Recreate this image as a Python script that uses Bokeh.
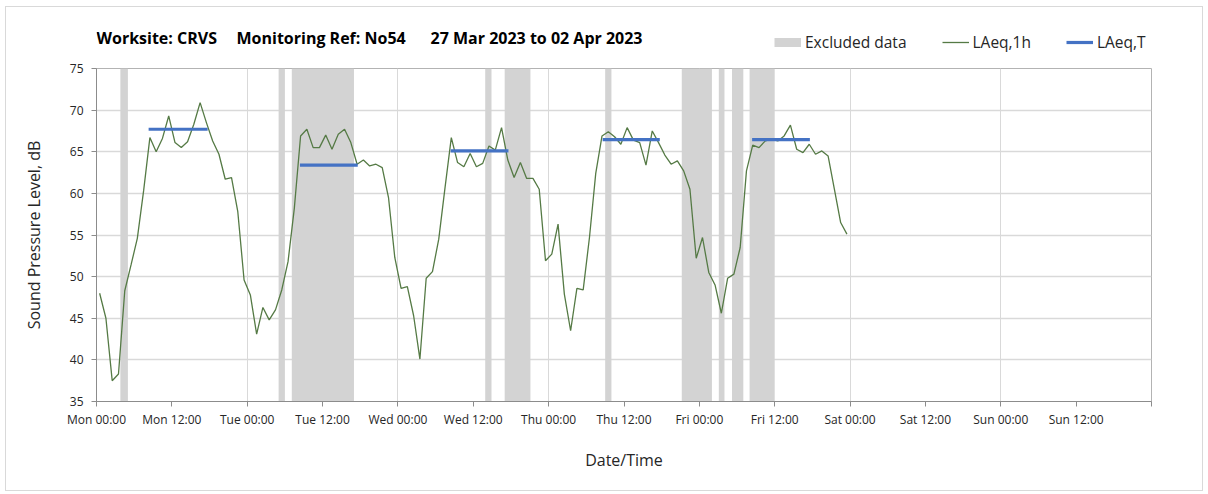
import numpy as np
from bokeh.plotting import figure
from bokeh.layouts import column
from bokeh.models import Range1d, FixedTicker, Legend, LegendItem, Label
from bokeh.embed import file_html
from bokeh.resources import INLINE

# ---- data ----
hour_mid = np.arange(120) + 0.5  # hourly periods, Mon 00:00 .. Fri 23:00
laeq_1h = [
    48.0, 45.0, 37.5, 38.3, 48.3, 51.4, 54.6, 60.3, 66.7, 65.0, 66.6, 69.3,
    66.1, 65.5, 66.2, 68.3, 70.9, 68.5, 66.3, 64.7, 61.7, 61.9, 57.8, 49.6,
    47.8, 43.1, 46.3, 44.8, 46.0, 48.4, 51.8, 58.2, 66.9, 67.7, 65.5, 65.5,
    67.0, 65.3, 67.1, 67.7, 66.1, 63.5, 64.0, 63.3, 63.5, 63.1, 59.5, 52.3,
    48.6, 48.8, 45.3, 40.1, 49.8, 50.6, 54.5, 60.7, 66.7, 63.7, 63.2, 64.8,
    63.2, 63.6, 65.7, 65.2, 67.9, 64.0, 61.9, 63.7, 61.8, 61.8, 60.5, 51.9,
    52.7, 56.3, 47.9, 43.5, 48.6, 48.4, 54.7, 62.4, 66.9, 67.4, 66.8, 65.9,
    67.9, 66.4, 66.1, 63.4, 67.5, 66.1, 64.6, 63.5, 63.9, 62.7, 60.5, 52.2,
    54.7, 50.5, 49.0, 45.6, 49.8, 50.3, 53.5, 62.7, 65.8, 65.5, 66.3, 66.5,
    66.3, 66.9, 68.2, 65.3, 64.9, 65.9, 64.7, 65.1, 64.5, 60.5, 56.5, 55.1,
]
excl_start = [3.8, 29.0, 31.1, 61.9, 65.0, 81.0, 93.2, 99.1, 101.2, 104.0]
excl_end = [5.0, 30.0, 41.0, 62.9, 69.1, 82.0, 98.0, 100.0, 103.0, 108.0]
laeqT_start = [8.3, 32.4, 56.4, 80.6, 104.4]
laeqT_end = [17.7, 41.6, 65.6, 89.7, 113.6]
laeqT_level = [67.7, 63.4, 65.1, 66.45, 66.45]

day_names = ["Mon", "Tue", "Wed", "Thu", "Fri", "Sat", "Sun"]
tick_hours = list(range(0, 169, 12))
tick_labels = [f"{d} {t}" for d in day_names for t in ("00:00", "12:00")] + [""]
y_ticks = [35, 40, 45, 50, 55, 60, 65, 70, 75]
title_parts = ["Worksite: CRVS", "Monitoring Ref: No54", "27 Mar 2023 to 02 Apr 2023"]
legend_labels = ["Excluded data", "LAeq,1h", "LAeq,T"]

FONT = "Open Sans"
TXT = "#262626"
C_EXCL = "#d3d3d3"
C_1H = "#557a45"
C_T = "#4472c4"

W = 1196

# ---------------- header (title + legend) ----------------
HH = 49
header = figure(width=W, height=HH, min_border=0,
                x_range=Range1d(0, 1), y_range=Range1d(0, 1),
                x_axis_location=None, y_axis_location=None,
                output_backend="svg", toolbar_location=None)
header.outline_line_color = None
header.grid.visible = False
header.background_fill_color = "white"
header.border_fill_color = "white"

for x, t in zip([0, 140, 334], title_parts):
    header.add_layout(Label(x=x, y=18.5, x_units="screen", y_units="screen", text=t,
                            text_font=FONT, text_font_style="bold", text_font_size="16px",
                            text_color="#000000", text_baseline="middle",
                            text_align="left"))

lg_excl = header.line(x=[np.nan], y=[np.nan], line_color=C_EXCL, line_width=9)
lg_1h = header.line(x=[np.nan], y=[np.nan], line_color=C_1H, line_width=1.3)
lg_t = header.line(x=[np.nan], y=[np.nan], line_color=C_T, line_width=3.2)
legend = Legend(
    items=[LegendItem(label=l, renderers=[r])
           for l, r in zip(legend_labels, [lg_excl, lg_1h, lg_t])],
    orientation="horizontal", location=(678, 3.5),
    glyph_width=27, glyph_height=20, label_height=20, label_standoff=4,
    spacing=35, padding=0, margin=0,
    border_line_alpha=0, background_fill_alpha=0,
    label_text_font=FONT, label_text_font_size="15.5px", label_text_color=TXT,
)
header.add_layout(legend, "center")

# ---------------- main chart ----------------
p = figure(
    frame_width=1055, frame_height=333,
    min_border_left=90, min_border_top=12, min_border_right=51, min_border_bottom=89,
    x_range=Range1d(0, 168), y_range=Range1d(35, 75),
    output_backend="svg", toolbar_location=None,
)
p.background_fill_color = "white"
p.border_fill_color = "white"
p.outline_line_color = "#b3b3b3"
p.outline_line_width = 1

p.xgrid.ticker = FixedTicker(ticks=[24, 48, 72, 96, 120, 144])
p.xgrid.grid_line_color = "#d9d9d9"
p.xgrid.grid_line_width = 1
p.ygrid.ticker = FixedTicker(ticks=[40, 45, 50, 55, 60, 65, 70])
p.ygrid.grid_line_color = "#d9d9d9"
p.ygrid.grid_line_width = 1.5

p.xaxis.ticker = FixedTicker(ticks=tick_hours)
p.xaxis.major_label_overrides = {h: lab for h, lab in zip(tick_hours, tick_labels)}
p.yaxis.ticker = FixedTicker(ticks=y_ticks)
for ax in (p.xaxis[0], p.yaxis[0]):
    ax.axis_line_color = "#8c8c8c"
    ax.major_tick_line_color = "#8c8c8c"
    ax.major_tick_out = 5
    ax.major_tick_in = 0
    ax.minor_tick_line_color = None
    ax.major_label_text_font = FONT
    ax.major_label_text_font_size = "12px"
    ax.major_label_text_color = TXT
    ax.axis_label_text_font = FONT
    ax.axis_label_text_font_size = "16px"
    ax.axis_label_text_font_style = "normal"
    ax.axis_label_text_color = TXT
p.xaxis.major_label_standoff = 4
p.yaxis.major_label_standoff = 8
p.xaxis.axis_label = "Date/Time"
p.xaxis.axis_label_standoff = 18
p.yaxis.axis_label = "Sound Pressure Level, dB"
p.yaxis.axis_label_standoff = 22

p.quad(left=excl_start, right=excl_end, bottom=35, top=75,
       fill_color=C_EXCL, line_color=None)
p.line(hour_mid, laeq_1h, line_color=C_1H, line_width=1.3)
p.segment(x0=laeqT_start, y0=laeqT_level, x1=laeqT_end, y1=laeqT_level,
          line_color=C_T, line_width=3.2)

layout = column(header, p, spacing=0,
                styles={"border": "1px solid #d9d9d9",
                        "margin-left": "5px", "margin-top": "6px"})
open("out.html", "w").write(file_html(layout, INLINE))
